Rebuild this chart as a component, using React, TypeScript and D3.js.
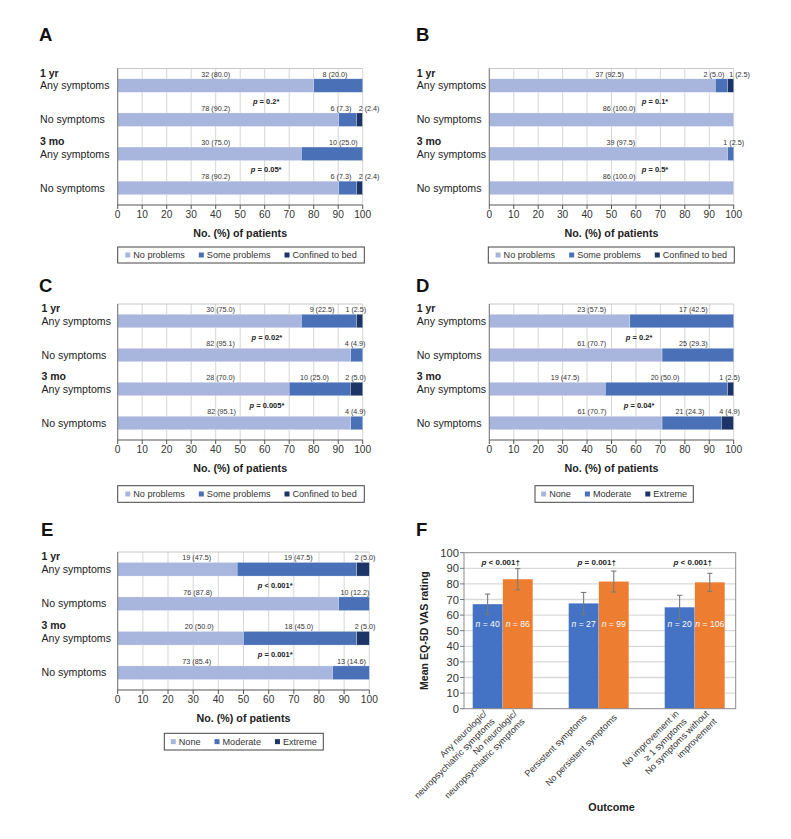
import React from 'react';
import * as d3 from 'd3';

const FONT = '"Liberation Sans", Arial, Helvetica, sans-serif';

// ---------- shared data ----------
const rowNames = ['Any symptoms', 'No symptoms', 'Any symptoms', 'No symptoms'];
const timeHeaders = ['1 yr', '', '3 mo', ''];
const xTicks = [0, 10, 20, 30, 40, 50, 60, 70, 80, 90, 100];
const mobilityKeys = ['No problems', 'Some problems', 'Confined to bed'];
const severityKeys = ['None', 'Moderate', 'Extreme'];
const xTitle = 'No. (%) of patients';

// Panel A
const aCounts = [[32, 8, 0], [78, 6, 2], [30, 10, 0], [78, 6, 2]];
const aPct = [[80.0, 20.0, 0], [90.2, 7.3, 2.4], [75.0, 25.0, 0], [90.2, 7.3, 2.4]];
const aP = ['= 0.2*', '= 0.05*'];
const aLabelAt = [[40, 88.7, 0], [40, 91.1, 102.6], [40, 92.1, 0], [40, 91.1, 102.6]];
// Panel B
const bCounts = [[37, 2, 1], [86, 0, 0], [39, 1, 0], [86, 0, 0]];
const bPct = [[92.5, 5.0, 2.5], [100.0, 0, 0], [97.5, 2.5, 0], [100.0, 0, 0]];
const bP = ['= 0.1*', '= 0.5*'];
const bLabelAt = [[49.2, 91.9, 102.4], [53.1, 0, 0], [53.8, 100, 0], [53.1, 0, 0]];
// Panel C
const cCounts = [[30, 9, 1], [82, 4, 0], [28, 10, 2], [82, 4, 0]];
const cPct = [[75.0, 22.5, 2.5], [95.1, 4.9, 0], [70.0, 25.0, 5.0], [95.1, 4.9, 0]];
const cP = ['= 0.02*', '= 0.005*'];
const cLabelAt = [[42, 83.4, 97.2], [42, 96.9, 0], [42, 80.3, 97.1], [42.4, 97, 0]];
// Panel D
const dCounts = [[23, 17, 0], [61, 25, 0], [19, 20, 1], [61, 21, 4]];
const dPct = [[57.5, 42.5, 0], [70.7, 29.3, 0], [47.5, 50.0, 2.5], [70.7, 24.3, 4.9]];
const dP = ['= 0.2*', '= 0.04*'];
const dLabelAt = [[41.9, 83.5, 0], [41.9, 83.5, 0], [31, 71.9, 98.3], [42, 82.1, 98.3]];
// Panel E
const eCounts = [[19, 19, 2], [76, 10, 0], [20, 18, 2], [73, 13, 0]];
const ePct = [[47.5, 47.5, 5.0], [87.8, 12.2, 0], [50.0, 45.0, 5.0], [85.4, 14.6, 0]];
const eP = ['< 0.001*', '= 0.001*'];
const eLabelAt = [[31.4, 71.8, 98.3], [31.8, 94.3, 0], [32.4, 72, 98.3], [31.4, 92.9, 0]];

// Panel F
const fGroups = ['g1', 'g2', 'g3'];
const fSeries = ['with', 'without'];
const fMeans = [[67, 83], [67.5, 81.5], [65, 81]];
const fErr = [[6.5, 6.8], [7, 6.7], [7.7, 5.8]];
const fN = [[40, 86], [27, 99], [20, 106]];
const fP = ['< 0.001†', '= 0.001†', '< 0.001†'];
const fCatLabels = [
  [['Any neurologic/', 'neuropsychiatric symptoms'], ['No neurologic/', 'neuropsychiatric symptoms']],
  [['Persistent symptoms'], ['No persistent symptoms']],
  [['No improvement in', '≥ 1 symptoms'], ['No symptoms without', 'improvement']],
];
const fTicks = [0, 10, 20, 30, 40, 50, 60, 70, 80, 90, 100];
const fYTitle = 'Mean EQ-5D VAS rating';
const fXTitle = 'Outcome';

// ---------- styles ----------
const segColors = ['#a8b5dd', '#4a70b8', '#1d3566'];
const fColors = ['#4472c4', '#ed7d31'];

let _ctx: CanvasRenderingContext2D | null = null;
function textW(s: string, font: string) {
  if (!_ctx) _ctx = document.createElement('canvas').getContext('2d');
  if (!_ctx) return s.length * 5;
  _ctx.font = font;
  return _ctx.measureText(s).width;
}

function Legend({ keys, box }: { keys: string[]; box: number[] }) {
  const [x0, x1, y0, y1] = box;
  const fs = 9.1;
  const sq = 5;
  const gap = 3;
  const spacing = 14;
  const widths = keys.map((k) => textW(k, `${fs}px Liberation Sans`));
  const total = widths.reduce((a, w) => a + sq + gap + w, 0) + spacing * (keys.length - 1);
  let cx = (x0 + x1) / 2 - total / 2;
  const cy = (y0 + y1) / 2;
  const items = keys.map((k, i) => {
    const sx = cx;
    cx += sq + gap + widths[i] + spacing;
    return (
      <g key={k}>
        <rect x={sx} y={cy - sq / 2} width={sq} height={sq} fill={segColors[i]} />
        <text x={sx + sq + gap} y={cy + 3.2} fontSize={fs} fill="#333">{k}</text>
      </g>
    );
  });
  return (
    <g>
      <rect x={x0} y={y0} width={x1 - x0} height={y1 - y0} fill="#fff" stroke="#444" strokeWidth={1} />
      {items}
    </g>
  );
}

type HProps = {
  letter: string; letterX: number; letterY: number; labelX: number;
  left: number; right: number; top: number; bottom: number;
  counts: number[][]; pct: number[][]; labelAt: number[][]; pvals: string[]; pX: number;
  keys: string[]; legendBox: number[];
};

function HBarPanel(p: HProps) {
  const x = d3.scaleLinear().domain([0, 100]).range([p.left, p.right]);
  const pad = 0.604;
  const y = d3.scaleBand<number>().domain(d3.range(4)).range([p.top, p.bottom]).paddingInner(pad).paddingOuter(pad / 2);
  const bw = y.bandwidth();
  const rows = p.pct.map((r) => ({ 0: r[0], 1: r[1], 2: r[2] } as any));
  const series = d3.stack<any, any, any>().keys([0, 1, 2])(rows);
  const step = y.step();
  return (
    <g>
      <text x={p.letterX} y={p.letterY} fontSize={18.5} fontWeight="bold" fill="#111">{p.letter}</text>
      {/* grid */}
      {xTicks.map((t) => (
        <line key={'g' + t} x1={x(t)} x2={x(t)} y1={p.top} y2={p.bottom} stroke="#d6d6d6" strokeWidth={1} />
      ))}
      <line x1={p.left} x2={p.right} y1={p.top} y2={p.top} stroke="#c8c8c8" strokeWidth={1} />
      {/* bars */}
      {series.map((s, k) =>
        s.map((d, i) =>
          d[1] - d[0] > 0 ? (
            <rect key={k + '-' + i} x={x(d[0])} y={y(i)} width={x(d[1]) - x(d[0])} height={bw}
              fill={segColors[k]} stroke="#ffffff" strokeOpacity={0.5} strokeWidth={0.5} />
          ) : null
        )
      )}
      {/* axes */}
      <line x1={p.left} x2={p.left} y1={p.top} y2={p.bottom} stroke="#777" strokeWidth={1} />
      <line x1={p.left} x2={p.right} y1={p.bottom} y2={p.bottom} stroke="#555" strokeWidth={1} />
      {xTicks.map((t) => (
        <g key={'t' + t}>
          <line x1={x(t)} x2={x(t)} y1={p.bottom} y2={p.bottom + 4} stroke="#555" strokeWidth={1} />
          <text x={x(t)} y={p.bottom + 12.5} fontSize={10.2} textAnchor="middle" fill="#333">{t}</text>
        </g>
      ))}
      <text x={(p.left + p.right) / 2} y={p.bottom + 31.5} fontSize={10.7} fontWeight="bold" textAnchor="middle" fill="#222">{xTitle}</text>
      {/* value labels */}
      {p.counts.map((r, i) =>
        r.map((c, k) =>
          c > 0 ? (
            <text key={'v' + i + k} x={x(p.labelAt[i][k])} y={(y(i) as number) - 2.3} fontSize={7.2} textAnchor="middle" fill="#333">
              {`${c} (${p.pct[i][k].toFixed(1)})`}
            </text>
          ) : null
        )
      )}
      {/* p values */}
      {p.pvals.map((pv, j) => (
        <text key={'p' + j} x={x(p.pX)} y={p.top + step * (2 * j + 1) + 1.5} fontSize={7.5} fontWeight="bold" textAnchor="middle" fill="#222">
          <tspan fontStyle="italic">p</tspan>{' ' + pv}
        </text>
      ))}
      {/* category labels */}
      {rowNames.map((n, i) => {
        const cy = (y(i) as number) + bw / 2;
        return (
          <g key={'c' + i}>
            {timeHeaders[i] ? (
              <text x={p.labelX} y={cy - 9} fontSize={10.5} fontWeight="bold" fill="#222">{timeHeaders[i]}</text>
            ) : null}
            <text x={p.labelX} y={cy + 3.7} fontSize={10.6} fill="#222">{n}</text>
          </g>
        );
      })}
      <Legend keys={p.keys} box={p.legendBox} />
    </g>
  );
}

function FPanel() {
  const L = 464, R = 735.7, T = 552.7, B = 708.7;
  const y = d3.scaleLinear().domain([0, 100]).range([B, T]);
  const x0 = d3.scaleBand<string>().domain(fGroups).range([454.7, 742.7]).paddingInner(0.375).paddingOuter(0.1875);
  const x1 = d3.scaleBand<string>().domain(fSeries).range([0, x0.bandwidth()]).paddingInner(0.01);
  const lineH = 11;
  return (
    <g>
      <text x={416} y={536} fontSize={18.5} fontWeight="bold" fill="#111">F</text>
      {fTicks.filter((t) => t > 0 && t < 100).map((t) => (
        <line key={'fg' + t} x1={L} x2={R} y1={y(t)} y2={y(t)} stroke="#d9d9d9" strokeWidth={1.3} />
      ))}
      {fGroups.map((g, gi) =>
        fSeries.map((s, si) => {
          const bx = (x0(g) as number) + (x1(s) as number);
          const w = x1.bandwidth();
          const m = fMeans[gi][si];
          const e = fErr[gi][si];
          const cx = bx + w / 2;
          return (
            <g key={g + s}>
              <rect x={bx} y={y(m)} width={w} height={B - y(m)} fill={fColors[si]} />
              <line x1={cx} x2={cx} y1={y(m + e)} y2={y(m - e)} stroke="#7a7a7a" strokeWidth={1.1} />
              <line x1={cx - 2.6} x2={cx + 2.6} y1={y(m + e)} y2={y(m + e)} stroke="#7a7a7a" strokeWidth={1.1} />
              <line x1={cx - 2.6} x2={cx + 2.6} y1={y(m - e)} y2={y(m - e)} stroke="#7a7a7a" strokeWidth={1.1} />
              <text x={cx} y={y(54) + 3} fontSize={8.6} fill="#fff" textAnchor="middle">
                <tspan fontStyle="italic">n</tspan>{' = ' + fN[gi][si]}
              </text>
            </g>
          );
        })
      )}
      <rect x={L} y={T} width={R - L} height={B - T} fill="none" stroke="#8a8a8a" strokeWidth={1} />
      {fTicks.map((t) => (
        <g key={'ft' + t}>
          <line x1={L - 4} x2={L} y1={y(t)} y2={y(t)} stroke="#777" strokeWidth={1} />
          <text x={L - 5} y={y(t) + 4} fontSize={11.2} textAnchor="end" fill="#333">{t}</text>
        </g>
      ))}
      {fGroups.map((g, gi) => (
        <text key={'fp' + gi} x={(x0(g) as number) + x0.bandwidth() / 2 - 2} y={565} fontSize={8} fontWeight="bold" textAnchor="middle" fill="#222">
          <tspan fontStyle="italic">p</tspan>{' ' + fP[gi]}
        </text>
      ))}
      {fGroups.map((g, gi) =>
        fSeries.map((s, si) => {
          const cx = (x0(g) as number) + (x1(s) as number) + x1.bandwidth() / 2 + 1.5;
          const lines = fCatLabels[gi][si];
          return (
            <text key={'fl' + g + s} transform={`translate(${cx},716) rotate(-45)`} fontSize={9} textAnchor="end" fill="#333">
              {lines.map((ln, li) => (
                <tspan key={li} x={0} y={(li - (lines.length - 1) / 2) * lineH + 3}>{ln}</tspan>
              ))}
            </text>
          );
        })
      )}
      <text transform={`translate(428,${(T + B) / 2}) rotate(-90)`} fontSize={10.6} fontWeight="bold" textAnchor="middle" fill="#222">{fYTitle}</text>
      <text x={611.5} y={810.5} fontSize={10.7} fontWeight="bold" textAnchor="middle" fill="#222">{fXTitle}</text>
    </g>
  );
}

export default function App() {
  return (
    <svg width={791} height={839} style={{ position: 'absolute', left: 0, top: 0, fontFamily: FONT }}>
      <rect x={0} y={0} width={791} height={839} fill="#fff" />
      <HBarPanel letter="A" letterX={39} letterY={41} labelX={40} left={117.7} right={362.7} top={68.5} bottom={205}
        counts={aCounts} pct={aPct} labelAt={aLabelAt} pvals={aP} pX={60.6} keys={mobilityKeys} legendBox={[117.7, 364.3, 247, 263]} />
      <HBarPanel letter="B" letterX={416} letterY={41} labelX={416.7} left={489.3} right={733.7} top={68.5} bottom={205}
        counts={bCounts} pct={bPct} labelAt={bLabelAt} pvals={bP} pX={67.8} keys={mobilityKeys} legendBox={[488.3, 734.3, 247, 263]} />
      <HBarPanel letter="C" letterX={39} letterY={292} labelX={41.5} left={117.7} right={362.7} top={304} bottom={440}
        counts={cCounts} pct={cPct} labelAt={cLabelAt} pvals={cP} pX={60.9} keys={mobilityKeys} legendBox={[117.7, 364.3, 485.7, 502.3]} />
      <HBarPanel letter="D" letterX={416} letterY={292} labelX={416.7} left={489.3} right={733.7} top={304} bottom={440}
        counts={dCounts} pct={dPct} labelAt={dLabelAt} pvals={dP} pX={61.3} keys={severityKeys} legendBox={[535, 693.3, 485.7, 502.3]} />
      <HBarPanel letter="E" letterX={41} letterY={536} labelX={41.5} left={117.7} right={369.3} top={552} bottom={690}
        counts={eCounts} pct={ePct} labelAt={eLabelAt} pvals={eP} pX={62.6} keys={severityKeys} legendBox={[164.3, 323.3, 733.3, 750]} />
      <FPanel />
    </svg>
  );
}
